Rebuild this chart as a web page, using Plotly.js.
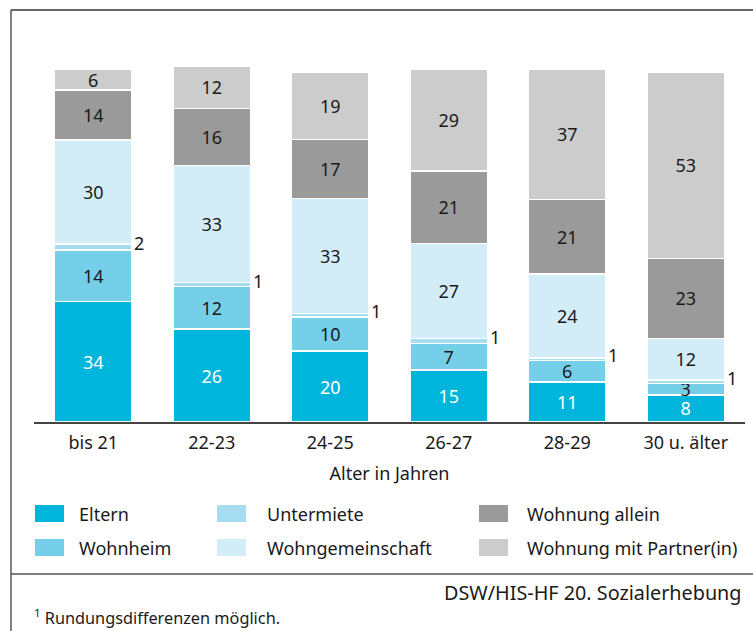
<!DOCTYPE html>
<html>
<head>
<meta charset="utf-8">
<script src="https://cdn.plot.ly/plotly-3.0.1.min.js"></script>
<style>html,body{margin:0;padding:0;background:#fff;}#chart{width:753px;height:631px;}</style>
</head>
<body>
<div id="chart"></div>
<script>
// ---- data ----
const categories = ["bis 21", "22-23", "24-25", "26-27", "28-29", "30 u. älter"];
const seriesNames = ["Eltern", "Wohnheim", "Untermiete", "Wohngemeinschaft", "Wohnung allein", "Wohnung mit Partner(in)"];
// segment sizes as drawn (percent)
const eltern     = [34.2, 26.3, 20.1, 14.8, 11.3, 7.7];
const wohnheim   = [14.5, 12.1, 9.6, 7.5, 6.2, 3.2];
const untermiete = [1.7, 1.1, 1.1, 1.4, 0.7, 1.0];
const wg         = [29.6, 33.2, 32.5, 26.9, 23.7, 11.8];
const allein     = [14.1, 16.2, 16.8, 20.6, 21.2, 22.7];
const partner    = [5.9, 11.9, 19.1, 28.7, 36.9, 52.8];
// printed labels
const elternLbl     = [34, 26, 20, 15, 11, 8];
const wohnheimLbl   = [14, 12, 10, 7, 6, 3];
const untermieteLbl = [2, 1, 1, 1, 1, 1];
const wgLbl         = [30, 33, 33, 27, 24, 12];
const alleinLbl     = [14, 16, 17, 21, 21, 23];
const partnerLbl    = [6, 12, 19, 29, 37, 53];
const sourceText = "DSW/HIS-HF 20. Sozialerhebung";
const footnoteText = "<sup>1</sup> Rundungsdifferenzen möglich.";
const xTitle = "Alter in Jahren";

// ---- style ----
const colors = ["#00b5dc", "#76cfe9", "#a7ddf1", "#d3edf8", "#9a9a9a", "#cccccc"];
const textColors = ["#ffffff", "#1a1a1a", "#1a1a1a", "#1a1a1a", "#1a1a1a", "#1a1a1a"];
const FONT = "Noto Sans, Open Sans, sans-serif";
const W = 753, H = 631;
const M = {l: 34, r: 8, t: 10, b: 209};
const PW = W - M.l - M.r, PH = H - M.t - M.b;
const px = x => (x - M.l) / PW;
const py = y => (H - M.b - y) / PH;

const values = [eltern, wohnheim, untermiete, wg, allein, partner];
const labels = [elternLbl, wohnheimLbl, untermieteLbl, wgLbl, alleinLbl, partnerLbl];

const traces = values.map((v, i) => {
  const t = {
    type: "bar",
    name: seriesNames[i],
    x: categories,
    y: v,
    marker: {color: colors[i], line: {color: "#ffffff", width: 1.5}},
    hoverinfo: "skip",
    cliponaxis: false
  };
  if (i !== 2) {
    t.text = labels[i].map(String);
    t.textposition = "inside";
    t.insidetextanchor = "middle";
    t.textangle = 0;
    t.constraintext = "none";
    t.textfont = {family: FONT, size: 18, color: textColors[i]};
  } else {
    t.textposition = "none";
  }
  return t;
});

const annotations = [];
// outside labels for Untermiete
categories.forEach((c, k) => {
  annotations.push({
    x: c, y: eltern[k] + wohnheim[k] + untermiete[k] / 2,
    xref: "x", yref: "y", text: String(untermieteLbl[k]),
    showarrow: false, xanchor: "left", yanchor: "middle",
    xshift: 39, yshift: 4,
    font: {family: FONT, size: 18, color: "#1a1a1a"}
  });
});

// legend (manual, column-major as in the reference)
const legendOrder = [0, 2, 4, 1, 3, 5];
const colX = [35, 217, 479];
const colTextX = [77, 265, 525];
const rowY = [513.5, 547.5];
const shapes = [];
legendOrder.forEach((s, idx) => {
  const col = idx % 3, row = Math.floor(idx / 3);
  shapes.push({
    type: "rect", xref: "paper", yref: "paper",
    x0: px(colX[col]), x1: px(colX[col] + 29),
    y0: py(rowY[row] + 8.5), y1: py(rowY[row] - 8.5),
    fillcolor: colors[s], line: {width: 0}
  });
  annotations.push({
    xref: "paper", yref: "paper", x: px(colTextX[col]), y: py(rowY[row]),
    xanchor: "left", yanchor: "middle", showarrow: false, text: seriesNames[s],
    font: {family: FONT, size: 18, color: "#1a1a1a"}
  });
});

// frame lines
shapes.push({type: "line", xref: "paper", yref: "paper", x0: px(11), x1: px(753), y0: py(10), y1: py(10), line: {color: "#333333", width: 1.5}});
shapes.push({type: "line", xref: "paper", yref: "paper", x0: px(11), x1: px(11), y0: py(10), y1: py(631), line: {color: "#555555", width: 1.5}});
shapes.push({type: "line", xref: "paper", yref: "paper", x0: px(11), x1: px(753), y0: py(574), y1: py(574), line: {color: "#555555", width: 1.5}});

// source & footnote
annotations.push({xref: "paper", yref: "paper", x: px(744), y: py(592), xanchor: "right", yanchor: "middle",
  showarrow: false, text: sourceText, font: {family: FONT, size: 19.8, color: "#1a1a1a"}});
annotations.push({xref: "paper", yref: "paper", x: px(32), y: py(617), xanchor: "left", yanchor: "middle",
  showarrow: false, text: footnoteText, font: {family: FONT, size: 16.3, color: "#1a1a1a"}});

const layout = {
  width: W, height: H,
  margin: M,
  paper_bgcolor: "#ffffff", plot_bgcolor: "#ffffff",
  barmode: "stack",
  bargap: 0.342,
  showlegend: false,
  uniformtext: {mode: "show", minsize: 18},
  font: {family: FONT, size: 18, color: "#1a1a1a"},
  xaxis: {
    type: "category",
    showline: true, linecolor: "#444444", linewidth: 1.5,
    ticks: "", showgrid: false, zeroline: false,
    ticklabelstandoff: 4,
    tickfont: {family: FONT, size: 18, color: "#1a1a1a"},
    title: {text: xTitle, font: {family: FONT, size: 18, color: "#1a1a1a"}, standoff: 14}
  },
  yaxis: {range: [0, 116.8], visible: false, showgrid: false, zeroline: false, fixedrange: true},
  shapes: shapes,
  annotations: annotations
};

Plotly.newPlot("chart", traces, layout, {displayModeBar: false, staticPlot: true});
</script>
</body>
</html>
